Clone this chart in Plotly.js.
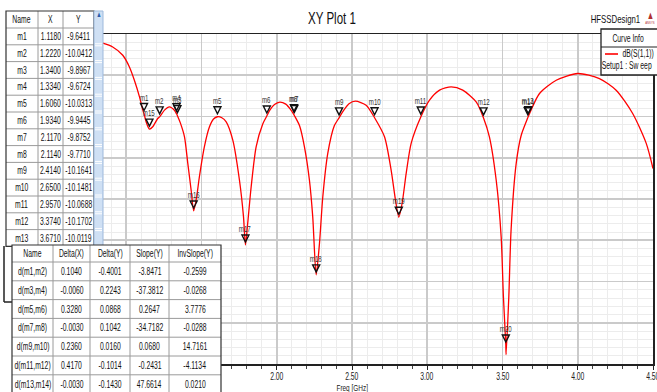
<!DOCTYPE html>
<html><head><meta charset="utf-8">
<script src="https://cdn.plot.ly/plotly-3.0.1.min.js"></script>
<style>
html,body{margin:0;padding:0;background:#fff;overflow:hidden}
#chart{width:657px;height:392px}
#chart .annotation-text, #chart .gtitle{transform-box:fill-box;transform-origin:center;transform:scaleX(0.68)}
</style>
</head><body><div id="chart"></div>
<script>
const FONT = "'Liberation Sans',Arial,sans-serif";

// ---- curve dB(S(1,1)) vs Freq [GHz] ----
const freqGHz = [0.840,0.910,0.977,1.021,1.054,1.088,1.110,1.118,1.132,1.154,1.176,1.209,1.222,1.254,1.287,1.320,1.334,1.340,1.360,1.387,1.409,1.431,1.448,1.468,1.486,1.519,1.553,1.580,1.606,1.635,1.664,1.708,1.752,1.779,1.792,1.807,1.830,1.863,1.907,1.934,1.955,1.985,2.020,2.060,2.090,2.114,2.117,2.151,2.184,2.217,2.239,2.262,2.284,2.306,2.339,2.383,2.414,2.439,2.480,2.523,2.594,2.650,2.716,2.760,2.789,2.811,2.833,2.860,2.893,2.957,3.015,3.082,3.159,3.236,3.325,3.374,3.413,3.458,3.491,3.506,3.522,3.524,3.542,3.557,3.591,3.624,3.668,3.671,3.746,3.857,4.000,4.144,4.255,4.365,4.455,4.500];
const s11dB = [-1.09,-1.57,-2.58,-3.99,-5.60,-7.62,-9.23,-9.6411,-10.65,-11.53,-11.25,-10.24,-10.0412,-9.23,-8.83,-9.25,-9.6724,-9.8967,-10.80,-12.46,-15.68,-18.91,-21.45,-19.72,-17.30,-13.67,-11.25,-10.30,-10.0313,-10.15,-10.65,-12.86,-17.70,-22.14,-25.57,-22.94,-18.51,-13.67,-10.90,-9.9445,-9.20,-8.55,-8.25,-8.50,-9.10,-9.7710,-9.8752,-11.10,-13.67,-17.70,-22.14,-29.20,-25.36,-19.72,-14.47,-11.10,-10.1641,-9.40,-8.45,-8.14,-8.63,-10.1481,-12.46,-16.49,-20.12,-22.21,-20.52,-16.89,-13.26,-10.0688,-8.02,-6.81,-6.41,-6.81,-8.23,-10.1702,-12.46,-17.70,-24.56,-31.82,-37.70,-38.87,-31.82,-23.75,-15.68,-12.30,-10.1549,-10.0119,-7.21,-5.60,-4.79,-5.40,-6.81,-9.63,-13.26,-16.30];

// ---- markers ----
const markerNames = ['m1','m2','m3','m4','m5','m6','m7','m8','m9','m10','m11','m12','m13','m14','m15','m16','m17','m18','m19','m20'];
const markerX = [1.1180,1.2220,1.3400,1.3340,1.6060,1.9340,2.1170,2.1140,2.4140,2.6500,2.9570,3.3740,3.6710,3.6680,1.154,1.448,1.792,2.262,2.811,3.522];
const markerY = [-9.6411,-10.0412,-9.8967,-9.6724,-10.0313,-9.9445,-9.8752,-9.7710,-10.1641,-10.1481,-10.0688,-10.1702,-10.0119,-10.1549,-11.53,-21.45,-25.57,-29.20,-22.21,-37.70];
const markerTableRows = 13;

// ---- delta table ----
const deltaNames = ['d(m1,m2)','d(m3,m4)','d(m5,m6)','d(m7,m8)','d(m9,m10)','d(m11,m12)','d(m13,m14)'];
const deltaX = [0.1040,-0.0060,0.3280,-0.0030,0.2360,0.4170,-0.0030];
const deltaY = [-0.4001,0.2243,0.0868,0.1042,0.0160,-0.1014,-0.1430];
const slopeY = [-3.8471,-37.3812,0.2647,-34.7182,0.0680,-0.2431,47.6614];
const invSlopeY = [-0.2599,-0.0268,3.7776,-0.0288,14.7161,-4.1134,0.0210];

// visible tick labels (1.00 and 1.50 sit under the delta table)
const xTickVals = [2.0,2.5,3.0,3.5,4.0,4.5];

// ---- layout helpers (pixel -> paper) ----
const W = 657, H = 392, ML = 51, MR = 4, MT = 34, MB = 28;
const PW = W - ML - MR, PH = H - MT - MB;
const px = v => (v - ML) / PW;
const py = v => (H - MB - v) / PH;

const shapes = [];
const annotations = [];
function rect(x0,y0,x1,y1,fill,line,lw){shapes.push({type:'rect',xref:'paper',yref:'paper',layer:'above',x0:px(x0),x1:px(x1),y0:py(y0),y1:py(y1),fillcolor:fill,line:{color:line||'rgba(0,0,0,0)',width:lw||0}});}
function seg(x0,y0,x1,y1,color,lw){shapes.push({type:'line',xref:'paper',yref:'paper',layer:'above',x0:px(x0),x1:px(x1),y0:py(y0),y1:py(y1),line:{color:color,width:lw||1}});}
function txt(x,y,t,size,color){annotations.push({xref:'paper',yref:'paper',x:px(x),y:py(y),text:t,showarrow:false,xanchor:'center',yanchor:'middle',font:{family:FONT,size:size||10,color:color||'#111'}});}

// ---- x tick labels (narrow, on the axis scale) ----
xTickVals.forEach(v=>annotations.push({xref:'x',yref:'paper',x:v,y:py(376),text:v.toFixed(2),showarrow:false,xanchor:'center',yanchor:'middle',font:{family:FONT,size:10,color:'#222'}}));
txt(352,387,'Freq [GHz]',9.5,'#222');

// ---- marker triangles (tip just above the point) and labels ----
markerNames.forEach((n,i)=>{
  shapes.push({type:'path',xref:'x',yref:'y',xsizemode:'pixel',ysizemode:'pixel',xanchor:markerX[i],yanchor:markerY[i],
    path:'M-3.5,10 L3.5,10 L0,3 Z',fillcolor:'rgba(255,255,255,0)',line:{color:'#111',width:1.4},layer:'above'});
  annotations.push({xref:'x',yref:'y',x:markerX[i],y:markerY[i],yshift:16,text:n,showarrow:false,
    font:{family:FONT,size:9,color:'#333'}});
});

// ---- upper marker table ----
const t1Cols = [6,38,63,94];
const t1Top = 11, t1Head = 28, t1Row = 16.8;
const t1Bottom = t1Head + t1Row*markerTableRows;
rect(t1Cols[0],t1Top,t1Cols[3],t1Bottom,'#ffffff');
for (let r=0;r<=markerTableRows;r++){ seg(t1Cols[0],t1Head+r*t1Row,t1Cols[3],t1Head+r*t1Row,'#9a9a9a',1); }
seg(t1Cols[1],t1Top,t1Cols[1],t1Bottom,'#9a9a9a',1);
seg(t1Cols[2],t1Top,t1Cols[2],t1Bottom,'#9a9a9a',1);
rect(t1Cols[0],t1Top,t1Cols[3],t1Bottom,'rgba(0,0,0,0)','#333',1.2);
['Name','X','Y'].forEach((h,c)=>txt((t1Cols[c]+t1Cols[c+1])/2,(t1Top+t1Head)/2,h,10));
for (let r=0;r<markerTableRows;r++){
  const yc = t1Head + t1Row*(r+0.5);
  txt((t1Cols[0]+t1Cols[1])/2,yc,markerNames[r],10);
  txt((t1Cols[1]+t1Cols[2])/2,yc,markerX[r].toFixed(4),10);
  txt((t1Cols[2]+t1Cols[3])/2,yc,markerY[r].toFixed(4),10);
}
// scrollbar
rect(94,t1Top,103,t1Bottom,'#cfe0f4','#9db9dc',1);
for (let r=1;r<=markerTableRows;r++){ seg(95,t1Head+r*t1Row-1,102,t1Head+r*t1Row-1,'#ffffff',1); seg(95,t1Head+r*t1Row+1,102,t1Head+r*t1Row+1,'#ffffff',1); }
txt(98.5,15,'▲',8,'#2a5caa');
// small frame corner below upper table
seg(4,246,4,302,'#222',1.5); seg(4,302,12,302,'#222',1.5);

// ---- lower delta table ----
const t2Cols = [12,53,90,130,169,221];
const t2Top = 245, t2Head = 262, t2Row = 18.8;
const t2Bottom = t2Head + t2Row*deltaNames.length;
rect(t2Cols[0],t2Top,t2Cols[5],t2Bottom,'#ffffff');
for (let r=0;r<=deltaNames.length;r++){ seg(t2Cols[0],t2Head+r*t2Row,t2Cols[5],t2Head+r*t2Row,'#9a9a9a',1); }
for (let c=1;c<5;c++){ seg(t2Cols[c],t2Top,t2Cols[c],t2Bottom,'#9a9a9a',1); }
rect(t2Cols[0],t2Top,t2Cols[5],t2Bottom,'rgba(0,0,0,0)','#333',1.2);
['Name','Delta(X)','Delta(Y)','Slope(Y)','InvSlope(Y)'].forEach((h,c)=>txt((t2Cols[c]+t2Cols[c+1])/2,(t2Top+t2Head)/2,h,10));
deltaNames.forEach((n,r)=>{
  const yc = t2Head + t2Row*(r+0.5);
  const vals = [n, deltaX[r].toFixed(4), deltaY[r].toFixed(4), slopeY[r].toFixed(4), invSlopeY[r].toFixed(4)];
  vals.forEach((v,c)=>txt((t2Cols[c]+t2Cols[c+1])/2,yc,v,10));
});

// ---- legend box ----
rect(601,29,659,75,'#ffffff','#222',1.3);
seg(601,47,659,47,'#222',1);
txt(628,39,'Curve Info',10);
seg(605,54,618,54,'#ff0000',1.6);
txt(637.5,54,'dB(S(1,1))',10);
txt(627,66,'Setup1 : Sw eep',10);

// ---- header texts ----
txt(615,19,'HFSSDesign1',11.5);
txt(650,15,'▲',11,'#b03030');
txt(650,23,'ANSYS',4,'#b03030');

const data = [{
  type:'scatter', mode:'lines', x:freqGHz, y:s11dB,
  line:{color:'#ff0000', width:1.3, shape:'spline', smoothing:0.7},
  hoverinfo:'skip', showlegend:false
}];

const layout = {
  width:W, height:H,
  margin:{l:ML, r:MR, t:MT, b:MB, pad:0},
  paper_bgcolor:'#ffffff', plot_bgcolor:'#ffffff',
  showlegend:false,
  font:{family:FONT, size:10, color:'#111'},
  title:{text:'XY Plot 1', xref:'container', yref:'container', x:332/657, y:1-18/392, xanchor:'center', yanchor:'middle', font:{family:FONT,size:17,color:'#111'}},
  xaxis:{range:[0.5,4.5], dtick:0.5, tick0:0, showticklabels:false,
    showgrid:true, gridcolor:'#cacaca', gridwidth:1.6, zeroline:false,
    ticks:'outside', ticklen:4, tickcolor:'#222', tickwidth:1,
    minor:{dtick:0.1, tick0:0, showgrid:true, gridcolor:'#ececec', gridwidth:1, ticks:'outside', ticklen:3, tickcolor:'#444'},
    showline:true, linecolor:'#222', linewidth:1.5, mirror:true},
  yaxis:{range:[-40,0], dtick:5, tick0:0, showticklabels:false,
    showgrid:true, gridcolor:'#cacaca', gridwidth:1.6, zeroline:false, ticks:'',
    minor:{dtick:1, showgrid:true, gridcolor:'#ececec', gridwidth:1},
    showline:true, linecolor:'#222', linewidth:1.5, mirror:true},
  shapes:shapes, annotations:annotations
};
Plotly.newPlot('chart', data, layout, {staticPlot:true, displayModeBar:false});
</script></body></html>
